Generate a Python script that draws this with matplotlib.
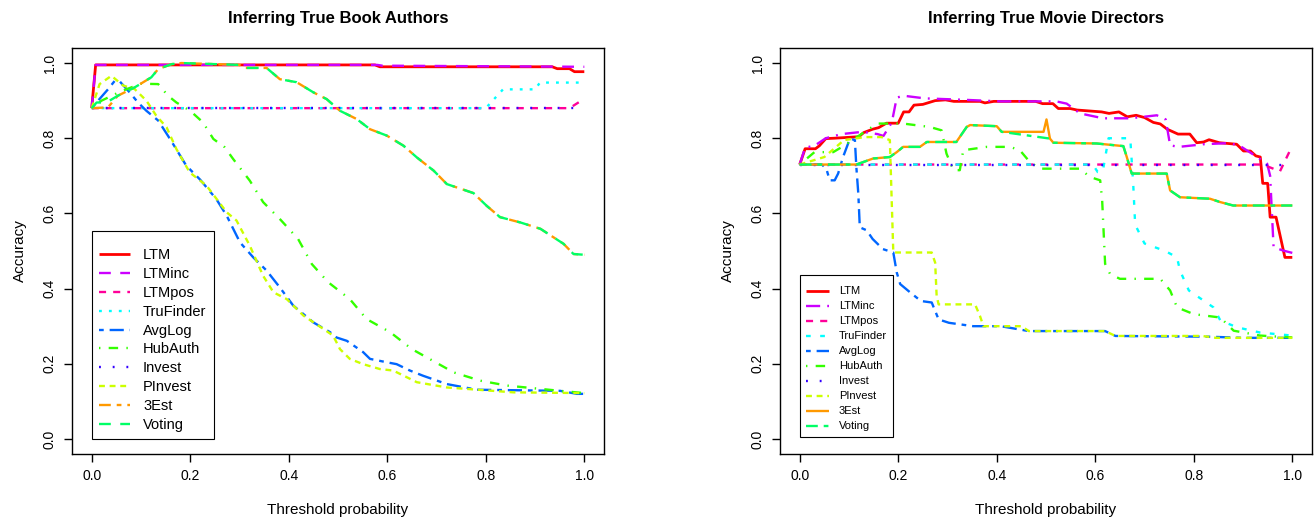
import matplotlib
matplotlib.use("Agg")
import matplotlib.pyplot as plt

plt.rcParams['font.family'] = ['Liberation Sans', 'DejaVu Sans']

methods = ['LTM', 'LTMinc', 'LTMpos', 'TruFinder', 'AvgLog', 'HubAuth',
           'Invest', 'PInvest', '3Est', 'Voting']
colors = ['#FF0000', '#CC00FF', '#FF0099', '#00FFFF', '#0066FF',
          '#33FF00', '#3300FF', '#CCFF00', '#FF9900', '#00FF66']

# ---- Inferring True Book Authors: (threshold, accuracy) keypoints ----
book_x = {
    'LTM': [0, 0.008, 0.575, 0.585, 0.935, 0.945, 0.97, 0.98, 1.0],
    'LTMinc': [0, 0.008, 0.58, 0.59, 1.0],
    'LTMpos': [0, 0.97, 1.0],
    'TruFinder': [0, 0.80, 0.835, 0.90, 0.91, 1.0],
    'AvgLog': [0, 0.013, 0.033, 0.047, 0.057, 0.077, 0.094, 0.111, 0.135, 0.159, 0.192,
               0.22, 0.253, 0.274, 0.301, 0.328, 0.355, 0.382, 0.409, 0.45, 0.484,
               0.497, 0.518, 0.551, 0.565, 0.599, 0.619, 0.646, 0.673, 0.721, 0.782,
               0.951, 0.985, 1.0],
    'HubAuth': [0, 0.02, 0.06, 0.1, 0.135, 0.155, 0.172, 0.2, 0.226, 0.247, 0.27, 0.287,
                0.321, 0.348, 0.382, 0.419, 0.447, 0.48, 0.524, 0.558, 0.606, 0.65,
                0.687, 0.735, 0.789, 0.843, 0.951, 1.0],
    'Invest': [0, 1.0],
    'PInvest': [0, 0.016, 0.04, 0.064, 0.087, 0.111, 0.131, 0.152, 0.172, 0.199, 0.233,
                0.274, 0.294, 0.321, 0.348, 0.369, 0.396, 0.43, 0.47, 0.49, 0.504, 0.524,
                0.551, 0.585, 0.612, 0.64, 0.66, 0.721, 0.856, 1.0],
    '3Est': [0, 0.033, 0.053, 0.087, 0.121, 0.135, 0.162, 0.182, 0.3, 0.31, 0.355, 0.382,
             0.416, 0.45, 0.477, 0.504, 0.538, 0.565, 0.599, 0.633, 0.66, 0.694, 0.721,
             0.775, 0.802, 0.829, 0.87, 0.911, 0.938, 0.958, 0.978, 1.0],
    'Voting': [0, 0.01, 0.03, 0.053, 0.087, 0.121, 0.135, 0.162, 0.182, 0.3, 0.31, 0.355,
               0.382, 0.416, 0.45, 0.477, 0.504, 0.538, 0.565, 0.599, 0.633, 0.66, 0.694,
               0.721, 0.775, 0.802, 0.829, 0.87, 0.911, 0.938, 0.958, 0.978, 1.0],
}
book_y = {
    'LTM': [0.88, 0.995, 0.995, 0.99, 0.99, 0.985, 0.985, 0.977, 0.977],
    'LTMinc': [0.88, 0.995, 0.995, 0.993, 0.99],
    'LTMpos': [0.88, 0.88, 0.905],
    'TruFinder': [0.88, 0.88, 0.93, 0.93, 0.948, 0.948],
    'AvgLog': [0.88, 0.90, 0.93, 0.953, 0.951, 0.922, 0.895, 0.873, 0.847, 0.798, 0.727,
               0.69, 0.638, 0.594, 0.523, 0.483, 0.448, 0.403, 0.355, 0.31, 0.284,
               0.27, 0.261, 0.231, 0.213, 0.204, 0.199, 0.182, 0.168, 0.146, 0.131,
               0.128, 0.12, 0.12],
    'HubAuth': [0.88, 0.90, 0.925, 0.945, 0.944, 0.913, 0.895, 0.873, 0.842, 0.798, 0.776,
                0.745, 0.687, 0.63, 0.585, 0.532, 0.465, 0.417, 0.372, 0.319, 0.284,
                0.239, 0.212, 0.177, 0.155, 0.142, 0.128, 0.122],
    'Invest': [0.88, 0.88],
    'PInvest': [0.88, 0.944, 0.966, 0.94, 0.931, 0.90, 0.86, 0.829, 0.771, 0.709, 0.674,
                0.603, 0.581, 0.514, 0.434, 0.39, 0.372, 0.328, 0.293, 0.275, 0.239, 0.213,
                0.199, 0.186, 0.182, 0.164, 0.151, 0.137, 0.124, 0.122],
    '3Est': [0.88, 0.882, 0.913, 0.935, 0.962, 0.984, 0.997, 1.0, 0.995, 0.987, 0.987,
             0.957, 0.949, 0.922, 0.904, 0.873, 0.851, 0.824, 0.807, 0.78, 0.749, 0.714,
             0.678, 0.654, 0.62, 0.59, 0.576, 0.559, 0.536, 0.519, 0.492, 0.49],
    'Voting': [0.88, 0.895, 0.895, 0.913, 0.935, 0.962, 0.984, 0.997, 1.0, 0.995, 0.987,
               0.987, 0.957, 0.949, 0.922, 0.904, 0.873, 0.851, 0.824, 0.807, 0.78, 0.749,
               0.714, 0.678, 0.654, 0.62, 0.59, 0.576, 0.559, 0.536, 0.519, 0.492, 0.49],
}

# ---- Inferring True Movie Directors ----
movie_x = {
    'LTM': [0, 0.011, 0.032, 0.04, 0.053, 0.07, 0.12, 0.13, 0.148, 0.16, 0.176, 0.2, 0.211,
            0.222, 0.232, 0.25, 0.275, 0.296, 0.313, 0.366, 0.376, 0.394, 0.479, 0.493,
            0.514, 0.525, 0.549, 0.563, 0.613, 0.628, 0.648, 0.665, 0.683, 0.70, 0.718,
            0.732, 0.746, 0.768, 0.792, 0.806, 0.82, 0.831, 0.852, 0.887, 0.901, 0.915,
            0.926, 0.935, 0.94, 0.95, 0.955, 0.967, 0.985, 1.0],
    'LTMinc': [0, 0.011, 0.03, 0.053, 0.085, 0.127, 0.158, 0.17, 0.187, 0.197, 0.211,
               0.254, 0.338, 0.408, 0.521, 0.542, 0.569, 0.616, 0.671, 0.725, 0.743,
               0.752, 0.77, 0.82, 0.87, 0.892, 0.918, 0.949, 0.955, 0.962, 0.982, 1.0],
    'LTMpos': [0, 0.94, 0.975, 1.0],
    'TruFinder': [0, 0.595, 0.605, 0.615, 0.627, 0.671, 0.677, 0.681, 0.70, 0.742, 0.766,
                  0.772, 0.79, 0.82, 0.84, 0.854, 0.888, 0.935, 1.0],
    'AvgLog': [0, 0.045, 0.054, 0.061, 0.071, 0.078, 0.088, 0.102, 0.112, 0.115, 0.119,
               0.122, 0.136, 0.148, 0.169, 0.19, 0.197, 0.204, 0.225, 0.246, 0.268, 0.282,
               0.303, 0.352, 0.408, 0.465, 0.62, 0.641, 0.831, 0.901, 1.0],
    'HubAuth': [0, 0.03, 0.068, 0.09, 0.141, 0.159, 0.21, 0.264, 0.288, 0.298, 0.312,
                0.325, 0.332, 0.38, 0.427, 0.447, 0.467, 0.488, 0.569, 0.589, 0.61, 0.614,
                0.62, 0.63, 0.65, 0.732, 0.752, 0.766, 0.8, 0.854, 0.881, 0.935, 1.0],
    'Invest': [0, 1.0],
    'PInvest': [0, 0.05, 0.09, 0.132, 0.166, 0.183, 0.19, 0.268, 0.275, 0.278, 0.282,
                0.356, 0.366, 0.373, 0.45, 0.465, 0.62, 0.641, 0.817, 0.845, 1.0],
    '3Est': [0, 0.115, 0.149, 0.183, 0.197, 0.21, 0.244, 0.258, 0.318, 0.339, 0.346, 0.4,
             0.41, 0.495, 0.501, 0.508, 0.515, 0.603, 0.657, 0.664, 0.674, 0.745, 0.752,
             0.772, 0.833, 0.854, 0.88, 1.0],
    'Voting': [0, 0.115, 0.149, 0.183, 0.197, 0.21, 0.244, 0.258, 0.318, 0.339, 0.346,
               0.4, 0.41, 0.508, 0.515, 0.603, 0.657, 0.664, 0.674, 0.745, 0.752, 0.772,
               0.833, 0.854, 0.88, 1.0],
}
movie_y = {
    'LTM': [0.73, 0.772, 0.772, 0.78, 0.799, 0.80, 0.804, 0.815, 0.824, 0.828, 0.84, 0.84,
            0.87, 0.87, 0.888, 0.89, 0.9, 0.902, 0.898, 0.898, 0.894, 0.898, 0.898, 0.892,
            0.892, 0.879, 0.879, 0.875, 0.87, 0.866, 0.87, 0.857, 0.861, 0.855, 0.842,
            0.838, 0.824, 0.811, 0.811, 0.788, 0.79, 0.796, 0.788, 0.784, 0.766, 0.766,
            0.753, 0.75, 0.68, 0.68, 0.59, 0.59, 0.483, 0.483],
    'LTMinc': [0.73, 0.775, 0.78, 0.80, 0.811, 0.817, 0.811, 0.806, 0.842, 0.908, 0.913,
               0.906, 0.902, 0.898, 0.898, 0.892, 0.866, 0.853, 0.853, 0.861, 0.85,
               0.781, 0.777, 0.784, 0.787, 0.781, 0.759, 0.732, 0.70, 0.51, 0.501, 0.495],
    'LTMpos': [0.73, 0.73, 0.712, 0.78],
    'TruFinder': [0.73, 0.73, 0.71, 0.71, 0.80, 0.80, 0.68, 0.57, 0.52, 0.50, 0.483,
                  0.448, 0.395, 0.368, 0.35, 0.315, 0.297, 0.283, 0.275],
    'AvgLog': [0.73, 0.73, 0.719, 0.688, 0.688, 0.706, 0.75, 0.799, 0.795, 0.723, 0.652,
               0.563, 0.555, 0.532, 0.505, 0.496, 0.443, 0.412, 0.389, 0.367, 0.363, 0.318,
               0.309, 0.30, 0.30, 0.287, 0.287, 0.274, 0.272, 0.269, 0.269],
    'HubAuth': [0.73, 0.763, 0.763, 0.78, 0.825, 0.839, 0.839, 0.83, 0.821, 0.759, 0.715,
                0.715, 0.768, 0.777, 0.777, 0.768, 0.737, 0.719, 0.719, 0.697, 0.688, 0.635,
                0.466, 0.439, 0.426, 0.426, 0.395, 0.35, 0.332, 0.323, 0.288, 0.275, 0.27],
    'Invest': [0.73, 0.73],
    'PInvest': [0.73, 0.75, 0.795, 0.803, 0.803, 0.795, 0.496, 0.496, 0.469, 0.38, 0.358,
                0.358, 0.327, 0.30, 0.30, 0.287, 0.287, 0.274, 0.274, 0.269, 0.269],
    '3Est': [0.73, 0.73, 0.746, 0.75, 0.763, 0.777, 0.777, 0.79, 0.79, 0.83, 0.835, 0.832,
             0.817, 0.817, 0.85, 0.799, 0.788, 0.786, 0.779, 0.75, 0.706, 0.706, 0.661,
             0.643, 0.639, 0.63, 0.621, 0.621],
    'Voting': [0.73, 0.73, 0.746, 0.75, 0.763, 0.777, 0.777, 0.79, 0.79, 0.83, 0.835,
               0.832, 0.817, 0.799, 0.788, 0.786, 0.779, 0.75, 0.706, 0.706, 0.661, 0.643,
               0.639, 0.63, 0.621, 0.621],
}

# R-like line types (dash patterns in linewidth units)
book_ls = ['-', (0, (5, 4)), (0, (3, 3)), (0, (1.2, 3)), (0, (2, 2.5, 6, 2.5)),
           (0, (0.6, 3.5, 4, 3.5)), (0, (0.8, 5)), (0, (2.5, 2)), (0, (5, 2.5, 2, 2.5)),
           (0, (5, 4))]
movie_ls = ['-', (0, (6, 3, 0.8, 3)), (0, (3, 3)), (0, (2, 4)), (0, (2, 2.5, 6, 2.5)),
            (0, (0.6, 3.5, 4, 3.5)), (0, (0.8, 5)), (0, (2.5, 2)), '-',
            (0, (5, 2.5, 2, 2.5))]

fig = plt.figure(figsize=(13.15, 5.21), dpi=100)
ax1 = fig.add_axes([72 / 1315, 67 / 521, 532 / 1315, 406 / 521])
ax2 = fig.add_axes([780 / 1315, 67 / 521, 532 / 1315, 406 / 521])


def draw(ax, xs, ys, styles, title, legend_size, legend_spacing, anchor, top_gap):
    for m, c, ls in zip(methods, colors, styles):
        lw = 2.0 if m == 'LTM' else 1.7
        ax.plot(xs[m], ys[m], color=c, linestyle=ls, lw=lw, label=m,
                dash_capstyle='butt', solid_capstyle='butt')
    ax.set_xlim(-0.04, 1.04)
    ax.set_ylim(-0.04, 1.04)
    ax.set_xticks([0, 0.2, 0.4, 0.6, 0.8, 1.0])
    ax.set_xticklabels(['0.0', '0.2', '0.4', '0.6', '0.8', '1.0'])
    ax.set_yticks([0, 0.2, 0.4, 0.6, 0.8, 1.0])
    ax.set_yticklabels(['0.0', '0.2', '0.4', '0.6', '0.8', '1.0'], rotation=90, va='center')
    ax.tick_params(direction='out', length=6, width=1, labelsize=10, pad=5)
    for s in ax.spines.values():
        s.set_linewidth(1)
    ax.set_xlabel('Threshold probability', fontsize=11, labelpad=14)
    ax.set_ylabel('Accuracy', fontsize=11, labelpad=11)
    ax.set_title(title, fontsize=12, fontweight='bold', pad=18)
    # blank tiny legend title gives the extra top margin R leaves in its legends
    leg = ax.legend(loc='lower left', bbox_to_anchor=anchor, borderaxespad=0,
                    fontsize=legend_size, labelspacing=legend_spacing, handlelength=2.1,
                    handletextpad=0.9, borderpad=0.5, fancybox=False, framealpha=1,
                    edgecolor='black', title=' ', title_fontsize=top_gap)
    leg.get_frame().set_linewidth(0.8)


draw(ax1, book_x, book_y, book_ls, 'Inferring True Book Authors', 10.5, 0.33,
     (0.0376, 0.037), 4)
draw(ax2, movie_x, movie_y, movie_ls, 'Inferring True Movie Directors', 8, 0.45,
     (0.0376, 0.042), 1)

fig.savefig('out.png', dpi=100)
